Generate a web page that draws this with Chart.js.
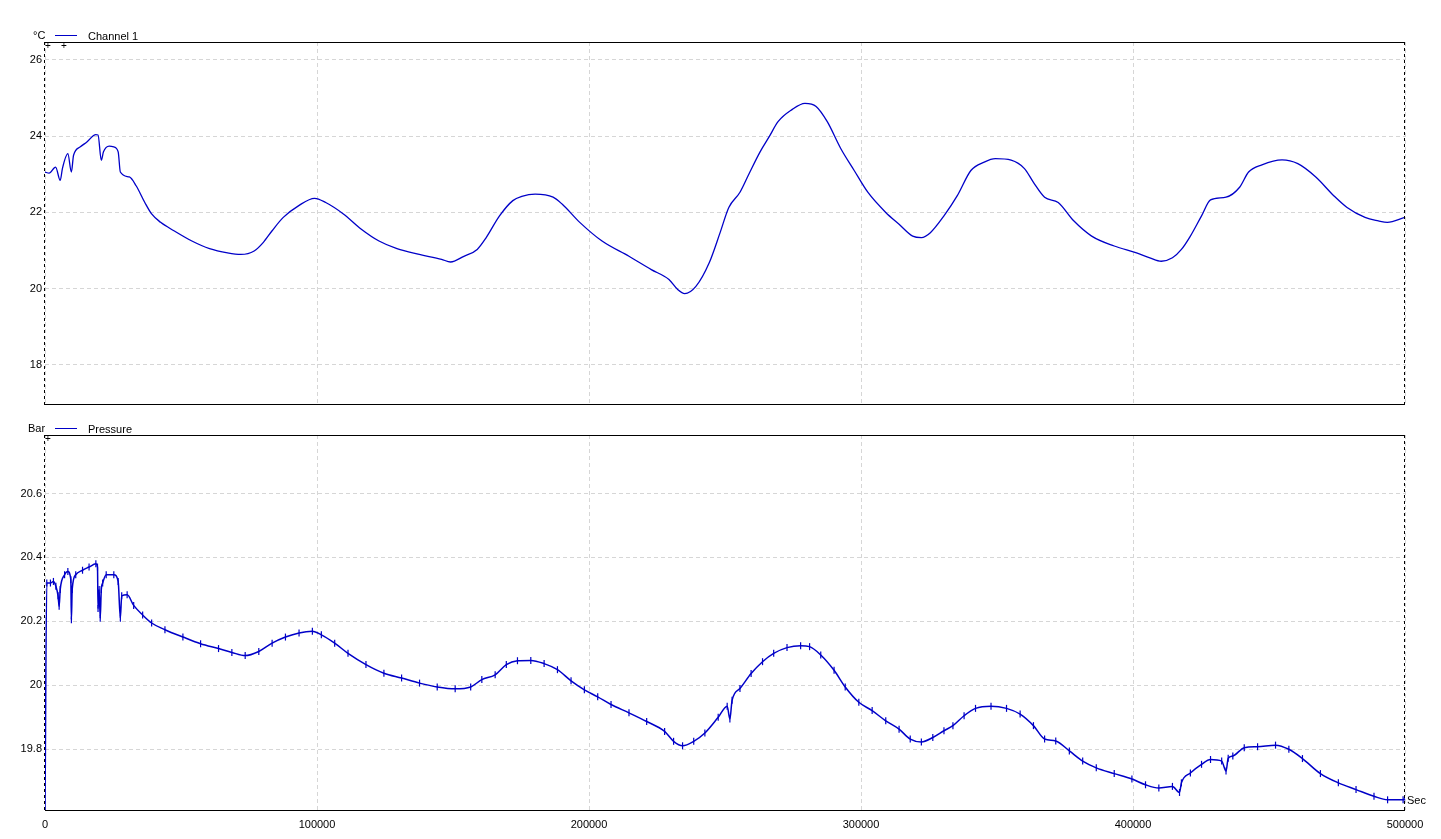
<!DOCTYPE html>
<html>
<head>
<meta charset="utf-8">
<script src="https://cdn.jsdelivr.net/npm/chart.js@4/dist/chart.umd.min.js"></script>
<style>
  body { margin: 0; background: #fff; width: 1441px; height: 839px; overflow: hidden; position: relative;
         font-family: "Liberation Sans", Arial, sans-serif; font-size: 11px; color: #000; }
  .box { position: absolute; left: 0; width: 1441px; }
  .lbl { position: absolute; line-height: 12px; white-space: nowrap; }
  .key { position: absolute; height: 1px; background: #0000c8; width: 22px; }
</style>
</head>
<body>
<div class="box" style="top:0;height:420px"><canvas id="tempChart"></canvas></div>
<div class="box" style="top:420px;height:419px"><canvas id="presChart"></canvas></div>

<span class="lbl" style="left:33px;top:29px">°C</span>
<div class="key" style="left:55px;top:35px"></div>
<span class="lbl" style="left:88px;top:30px">Channel 1</span>
<span class="lbl" style="left:45px;top:40px;font-size:10px">+</span>
<span class="lbl" style="left:61px;top:40px;font-size:10px">+</span>

<span class="lbl" style="left:28px;top:422px">Bar</span>
<div class="key" style="left:55px;top:428px"></div>
<span class="lbl" style="left:88px;top:423px">Pressure</span>
<span class="lbl" style="left:45px;top:433px;font-size:10px">+</span>

<span class="lbl" style="left:1407px;top:794px">Sec</span>

<script>
// time in seconds
const xTicks = [0, 100000, 200000, 300000, 400000, 500000];

// Channel 1 (°C)
const tempTicks = [18, 20, 22, 24, 26];
const tempTime = [0,1500,3900,5600,6400,8400,9700,10500,13000,15400,18700,19500,20700,21500,23600,25300,26900,27700,
  31000,33500,36700,39200,42500,47400,54000,60500,67100,72000,76900,80200,83500,87600,93300,99100,103200,109700,
  116300,122800,129400,137600,145800,149100,154000,158900,162200,167100,172000,175300,180200,186800,190100,196600,
  204800,214700,222900,229400,232700,235200,239300,244200,248200,251400,255500,258800,262900,266200,269500,274500,
  279400,283500,287600,292600,297500,302500,309100,314000,319000,322200,325500,330500,335400,340400,345300,349400,
  355200,360100,363400,367500,372500,378200,384800,393100,401300,406200,410400,414500,417800,421100,425200,428500,
  434200,439200,442500,447400,454800,460600,467200,473800,478700,485300,490200,493500,500000];
const tempVals = [23.06,23.03,23.19,22.84,23.15,23.54,23.06,23.50,23.72,23.85,24.04,24.03,23.37,23.59,23.74,23.72,23.59,23.06,
  22.93,22.70,22.26,21.96,21.74,21.52,21.25,21.05,20.94,20.90,20.99,21.21,21.52,21.87,22.18,22.37,22.26,21.96,
  21.56,21.25,21.05,20.90,20.77,20.70,20.85,21.03,21.34,21.91,22.31,22.42,22.48,22.40,22.22,21.74,
  21.25,20.85,20.50,20.24,19.97,19.87,20.06,20.68,21.47,22.13,22.53,23.01,23.59,23.98,24.38,24.69,
  24.86,24.78,24.38,23.67,23.10,22.53,22.00,21.69,21.38,21.34,21.47,21.91,22.44,23.10,23.32,23.41,
  23.37,23.15,22.79,22.40,22.26,21.78,21.38,21.12,20.94,20.81,20.72,20.81,21.03,21.38,21.91,22.33,
  22.40,22.66,23.06,23.25,23.38,23.28,22.93,22.44,22.13,21.87,21.78,21.74,21.87];

// Pressure (Bar)
const presTicks = [19.8, 20, 20.2, 20.4, 20.6];
const presTime = [0,650,2000,3100,4000,4800,5200,5600,7200,8400,9500,9700,10000,11300,13800,16200,18700,19300,19500,19900,
  20300,20700,21200,22500,25300,26900,27700,28200,30200,32600,35900,39200,44100,50700,57200,63800,68700,73600,78600,
  83500,88400,93400,98300,101600,106500,111400,118000,124600,131100,137700,144200,150800,156500,160600,165500,169600,
  173700,178600,183500,188400,193400,198300,203200,208100,214700,221200,227800,231100,234400,238500,242600,247500,
  250800,251800,252600,255500,259600,263800,267900,272800,277800,281100,285200,290100,294200,299200,304100,309100,
  314000,318100,322200,326400,330500,333800,337900,342100,347800,353500,358500,363400,367500,371600,376600,381500,
  386500,393100,399600,404600,409500,414500,417100,417800,421100,425200,428500,432600,434200,435000,436700,440900,
  445800,452400,457300,462300,468900,475500,482000,488600,493600,499300,500000];
const presVals = [19.600,20.320,20.320,20.325,20.310,20.280,20.247,20.300,20.346,20.356,20.330,20.205,20.300,20.346,20.360,20.370,20.380,20.370,20.240,20.300,
  20.210,20.300,20.320,20.346,20.346,20.325,20.210,20.280,20.283,20.250,20.220,20.195,20.174,20.151,20.130,20.115,20.103,20.093,20.106,
  20.132,20.151,20.164,20.169,20.158,20.132,20.100,20.065,20.038,20.023,20.007,19.995,19.989,19.995,20.018,20.033,20.065,
  20.077,20.078,20.068,20.049,20.014,19.986,19.964,19.940,19.914,19.887,19.856,19.825,19.811,19.825,19.851,19.900,
  19.935,19.895,19.953,19.990,20.037,20.074,20.100,20.118,20.124,20.121,20.095,20.047,19.995,19.947,19.921,19.889,
  19.863,19.832,19.823,19.837,19.858,19.874,19.905,19.928,19.935,19.928,19.910,19.874,19.832,19.826,19.795,19.763,
  19.742,19.724,19.707,19.689,19.679,19.684,19.665,19.695,19.726,19.753,19.768,19.763,19.732,19.772,19.779,19.805,
  19.808,19.813,19.800,19.771,19.724,19.695,19.674,19.653,19.642,19.642,19.645];

const lineColor = '#0000c8';
const gridColor = '#d6d6d6';
const tickFont = { family: '"Liberation Sans", Arial, sans-serif', size: 11 };

// frame: solid top/bottom, dashed left/right
const framePlugin = {
  id: 'frame',
  afterDraw(chart) {
    const { left, right, top, bottom } = chart.chartArea;
    const c = chart.ctx;
    c.save();
    c.strokeStyle = '#000';
    c.lineWidth = 1;
    c.beginPath();
    c.moveTo(left, top + 0.5); c.lineTo(right, top + 0.5);
    c.moveTo(left, bottom - 0.5); c.lineTo(right, bottom - 0.5);
    c.stroke();
    c.setLineDash([3, 3]);
    c.beginPath();
    c.moveTo(left - 0.5, top); c.lineTo(left - 0.5, bottom);
    c.moveTo(right - 0.5, top); c.lineTo(right - 0.5, bottom);
    c.stroke();
    c.restore();
  }
};

const makeY = (min, max, ticks) => ({
  min: min, max: max,
  afterFit(s) { s.width = 45; },
  afterBuildTicks(s) { s.ticks = ticks.map(v => ({ value: v })); },
  ticks: { color: '#000', font: tickFont, padding: 3, callback: v => String(+v.toFixed(1)) },
  grid: { color: gridColor, drawTicks: false },
  border: { display: false, dash: [4, 3] }
});

const makeX = (showLabels) => ({
  type: 'linear', min: 0, max: 500000,
  afterFit(s) { s.height = showLabels ? 28 : 0; },
  afterBuildTicks(s) { s.ticks = xTicks.map(v => ({ value: v })); },
  ticks: { display: showLabels, color: '#000', font: tickFont, padding: 7, maxRotation: 0, autoSkip: false,
           callback: v => String(v) },
  grid: { color: gridColor, drawTicks: false },
  border: { display: false, dash: [4, 3] }
});

new Chart(document.getElementById('tempChart'), {
  type: 'line',
  data: {
    datasets: [{
      label: 'Channel 1',
      data: tempTime.map((t, i) => ({ x: t, y: tempVals[i] })),
      borderColor: lineColor,
      borderWidth: 1.3,
      pointRadius: 0,
      cubicInterpolationMode: 'monotone'
    }]
  },
  options: {
    responsive: true, maintainAspectRatio: false, animation: false,
    layout: { padding: { top: 42, right: 36, bottom: 15, left: 0 } },
    plugins: { legend: { display: false }, tooltip: { enabled: false } },
    scales: { x: makeX(false), y: makeY(16.95, 26.47, tempTicks) }
  },
  plugins: [framePlugin]
});

new Chart(document.getElementById('presChart'), {
  type: 'line',
  data: {
    datasets: [{
      label: 'Pressure',
      data: presTime.map((t, i) => ({ x: t, y: presVals[i] })),
      borderColor: lineColor,
      borderWidth: 1.5,
      pointStyle: 'line',
      pointRotation: 90,
      pointRadius: 3.5,
      pointBorderWidth: 1.2,
      pointBorderColor: lineColor,
      cubicInterpolationMode: 'monotone'
    }]
  },
  options: {
    responsive: true, maintainAspectRatio: false, animation: false,
    layout: { padding: { top: 15, right: 36, bottom: 0, left: 0 } },
    plugins: { legend: { display: false }, tooltip: { enabled: false } },
    scales: { x: makeX(true), y: makeY(19.607, 20.783, presTicks) }
  },
  plugins: [framePlugin]
});
</script>
</body>
</html>
